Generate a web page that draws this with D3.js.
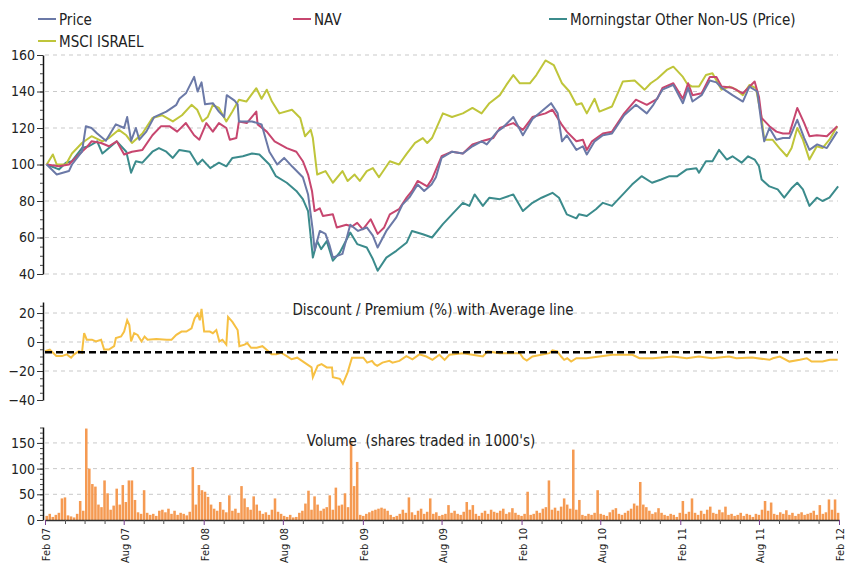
<!DOCTYPE html>
<html>
<head>
<meta charset="utf-8">
<script src="https://cdn.jsdelivr.net/npm/d3@7"></script>
<style>
  body { margin: 0; background: #fff; }
  text { font-family: "Liberation Sans Narrow", "DejaVu Sans Condensed", "Arial Narrow", sans-serif; fill: #222; }
</style>
</head>
<body>
<div id="chart"></div>
<script>
// Chart size
const width = 855;
const height = 565;

// Legend labels
const seriesNames = ["Price", "NAV", "Morningstar Other Non-US (Price)", "MSCI ISRAEL"];

// Price (rebased to 100)
const priceData = [
  ["2007-02-05",100],["2007-02-28",94.5],["2007-03-28",96.4],["2007-04-04",100],["2007-04-27",107],
  ["2007-05-06",121],["2007-05-19",120],["2007-06-01",117],["2007-06-21",113],["2007-07-14",122],
  ["2007-08-02",120],["2007-08-09",126],["2007-08-18",113],["2007-08-29",120],["2007-09-06",113.6],
  ["2007-09-22",118],["2007-10-10",126],["2007-11-07",129],["2007-11-30",132.7],["2007-12-07",136],
  ["2007-12-22",139],["2008-01-10",148],["2008-01-18",140],["2008-01-27",145],["2008-02-04",133],
  ["2008-02-22",133.6],["2008-03-07",129],["2008-03-19",126],["2008-03-25",138],["2008-04-12",135],
  ["2008-04-19",133],["2008-04-22",123.6],["2008-05-22",123.6],["2008-06-13",122],["2008-07-01",107],
  ["2008-07-19",100],["2008-08-04",103.6],["2008-08-22",99],["2008-09-16",93],["2008-09-28",83.6],
  ["2008-10-09",63.6],["2008-10-13",53],["2008-10-25",63.6],["2008-11-07",62],["2008-11-16",56],
  ["2008-11-24",49],["2008-12-16",51],["2009-01-03",67],["2009-01-21",63.6],["2009-02-10",65.5],
  ["2009-02-24",61],["2009-03-07",54.5],["2009-03-27",63.6],["2009-04-19",71],["2009-05-03",78],
  ["2009-05-19",82],["2009-06-07",89],["2009-06-22",85.5],["2009-07-09",89],["2009-07-19",93],
  ["2009-08-01",103.6],["2009-08-25",107],["2009-09-19",106],["2009-10-11",110],["2009-11-01",112.7],
  ["2009-11-13",111],["2009-12-07",118],["2009-12-19",120],["2010-01-13",126],["2010-02-04",116],
  ["2010-02-26",125],["2010-03-13",128],["2010-04-10",133.6],["2010-04-25",128],["2010-05-05",112.7],
  ["2010-05-16",116],["2010-06-07",108],["2010-06-22",110],["2010-07-01",105.5],["2010-07-19",112.7],
  ["2010-08-07",116],["2010-08-28",117],["2010-09-25",127],["2010-10-22",132.7],["2010-11-16",128],
  ["2010-12-01",132.7],["2010-12-22",141],["2011-01-16",143.6],["2011-02-07",133.6],["2011-02-19",142],
  ["2011-03-01",134.5],["2011-03-22",138],["2011-04-10",146],["2011-04-25",145],["2011-05-07",142],
  ["2011-06-01",138],["2011-06-25",134.5],["2011-07-10",142.7],["2011-07-28",140],["2011-08-07",122],
  ["2011-08-13",112.7],["2011-08-25",120],["2011-09-10",113.6],["2011-09-25",114.5],["2011-10-10",114.5],
  ["2011-10-28",124.5],["2011-11-13",114.5],["2011-11-25",108],["2011-12-13",111],["2012-01-04",109],
  ["2012-01-28",118]
];

// NAV (rebased to 100)
const navData = [
  ["2007-02-05",100],["2007-03-05",99],["2007-03-28",100],["2007-04-20",105.5],["2007-05-06",109],
  ["2007-05-19",112.7],["2007-06-10",111.8],["2007-06-28",110],["2007-07-16",112.7],["2007-08-02",105.5],
  ["2007-08-20",107],["2007-09-13",108],["2007-10-06",116],["2007-10-26",121],["2007-11-14",121],
  ["2007-12-02",118],["2007-12-22",122.7],["2008-01-10",116],["2008-01-22",113.6],["2008-02-07",122.7],
  ["2008-02-22",118],["2008-03-07",122.7],["2008-03-24",120],["2008-04-01",113.6],["2008-04-16",114.5],
  ["2008-04-22",123.6],["2008-05-10",122.7],["2008-06-01",129],["2008-06-04",122],["2008-06-25",118],
  ["2008-07-13",112.7],["2008-08-10",109],["2008-09-01",107],["2008-09-16",101.8],["2008-09-28",94.5],
  ["2008-10-07",85.5],["2008-10-13",74.5],["2008-10-25",76],["2008-11-01",71.8],["2008-11-24",72.7],
  ["2008-12-03",65.5],["2008-12-25",67],["2009-01-07",66],["2009-01-19",68],["2009-02-01",64.5],
  ["2009-02-19",70],["2009-03-07",62],["2009-03-22",65.5],["2009-04-04",72.7],["2009-04-25",75.5],
  ["2009-05-13",82],["2009-05-25",85.5],["2009-06-07",91],["2009-06-29",88],["2009-07-10",92],
  ["2009-08-01",104.5],["2009-08-25",107],["2009-09-19",106],["2009-10-11",111],["2009-11-01",112.7],
  ["2009-11-28",114.5],["2009-12-13",120],["2010-01-13",122.7],["2010-02-04",119],["2010-02-26",126],
  ["2010-03-28",128],["2010-04-13",130],["2010-05-04",122],["2010-05-16",118],["2010-06-07",112.7],
  ["2010-06-22",113.6],["2010-07-01",108],["2010-07-13",112.7],["2010-08-07",117],["2010-08-28",118],
  ["2010-09-25",128],["2010-10-22",135.5],["2010-11-16",132.7],["2010-12-10",136],["2010-12-22",142],
  ["2011-01-16",144.5],["2011-02-07",136],["2011-02-19",144.5],["2011-03-01",138],["2011-03-22",139],
  ["2011-04-10",148],["2011-04-25",148],["2011-05-07",142.7],["2011-06-01",142],["2011-06-25",139],
  ["2011-07-22",145.5],["2011-08-01",137],["2011-08-07",125.5],["2011-08-25",121],["2011-09-10",118],
  ["2011-09-25",117],["2011-10-10",117],["2011-10-28",131],["2011-11-13",122.7],["2011-11-25",115.5],
  ["2011-12-12",116],["2012-01-04",115.5],["2012-01-28",121]
];

// Morningstar Other Non-US (Price), rebased to 100
const msOtherData = [
  ["2007-02-05",100],["2007-03-05",97.3],["2007-03-21",101],["2007-04-04",101.8],["2007-04-27",109],
  ["2007-05-13",110],["2007-06-01",112.7],["2007-06-13",106],["2007-06-28",109],["2007-07-16",112.7],
  ["2007-08-07",107],["2007-08-18",95.5],["2007-08-29",101.8],["2007-09-13",101],["2007-10-06",107],
  ["2007-10-21",109],["2007-11-07",107],["2007-11-22",103.6],["2007-12-07",108],["2007-12-31",107],
  ["2008-01-18",100],["2008-01-29",102.7],["2008-02-16",98],["2008-03-07",101],["2008-03-24",99],
  ["2008-04-07",103.6],["2008-05-01",104.5],["2008-05-22",106],["2008-06-08",105.5],["2008-07-01",100],
  ["2008-07-16",93.6],["2008-08-10",90],["2008-09-01",85.5],["2008-09-16",81],["2008-09-28",74.5],
  ["2008-10-09",49],["2008-10-19",58],["2008-10-28",53.6],["2008-11-10",58],["2008-11-24",47.3],
  ["2008-12-10",51.8],["2009-01-03",62.7],["2009-01-19",56.4],["2009-02-10",54.5],["2009-02-24",48.2],
  ["2009-03-07",41.8],["2009-03-27",49],["2009-04-19",52.7],["2009-05-13",57.3],["2009-05-25",63.6],
  ["2009-06-19",61.8],["2009-07-10",60],["2009-08-04",67.3],["2009-08-25",72.7],["2009-09-19",79],
  ["2009-10-04",77.3],["2009-10-16",83.6],["2009-11-04",77.3],["2009-11-19",81.8],["2009-12-13",81],
  ["2010-01-13",83.6],["2010-02-04",74.5],["2010-02-26",79],["2010-03-19",81.8],["2010-04-13",84.5],
  ["2010-04-28",81.8],["2010-05-16",72.7],["2010-06-07",70.5],["2010-06-13",72.7],["2010-07-01",71.8],
  ["2010-07-22",75.5],["2010-08-07",79],["2010-08-28",77.3],["2010-09-22",83.6],["2010-10-13",89],
  ["2010-11-04",93.6],["2010-11-28",90],["2010-12-19",91.8],["2011-01-07",93.6],["2011-01-25",93.6],
  ["2011-02-16",97.3],["2011-03-10",98],["2011-03-16",95.5],["2011-04-01",101.8],["2011-04-16",101.8],
  ["2011-05-01",108],["2011-05-19",102.7],["2011-06-01",104.5],["2011-06-22",101],["2011-07-07",104.5],
  ["2011-07-22",102.7],["2011-08-01",99],["2011-08-07",91.8],["2011-08-25",88],["2011-09-13",86.4],
  ["2011-09-28",81.8],["2011-10-16",87.3],["2011-10-28",90],["2011-11-10",86.4],["2011-11-25",77.3],
  ["2011-12-12",81.8],["2011-12-25",80],["2012-01-10",81.8],["2012-01-30",88]
];

// MSCI ISRAEL, rebased to 100
const msciData = [
  ["2007-02-05",100],["2007-02-19",105.5],["2007-02-28",100],["2007-03-21",100],["2007-04-04",106],
  ["2007-04-27",111.8],["2007-05-19",115.5],["2007-06-13",112.7],["2007-06-28",114.5],["2007-07-21",119],
  ["2007-08-07",116],["2007-08-20",111.8],["2007-09-13",117],["2007-10-06",125.5],["2007-10-28",127],
  ["2007-11-22",123.6],["2007-12-13",127],["2008-01-04",132.7],["2008-01-17",130],["2008-01-29",123.6],
  ["2008-02-10",126],["2008-02-22",132.7],["2008-03-07",131],["2008-03-24",123.6],["2008-04-07",129],
  ["2008-04-22",135.5],["2008-05-09",134.5],["2008-06-01",141.8],["2008-06-13",136],["2008-06-25",141],
  ["2008-07-07",134.5],["2008-07-24",128],["2008-08-22",130],["2008-09-10",125.5],["2008-09-21",115.5],
  ["2008-10-04",119],["2008-10-09",114.5],["2008-10-19",94.5],["2008-11-07",96.4],["2008-11-24",90],
  ["2008-12-16",96.4],["2008-12-28",91],["2009-01-13",94.5],["2009-01-25",91],["2009-02-10",96.4],
  ["2009-02-24",98],["2009-03-10",93],["2009-04-04",101.8],["2009-04-25",100],["2009-05-13",106],
  ["2009-06-01",111.8],["2009-06-19",114.5],["2009-06-29",111.8],["2009-07-10",114.5],["2009-08-04",128],
  ["2009-08-25",126],["2009-09-19",128],["2009-10-11",131],["2009-11-01",128],["2009-11-19",133.6],
  ["2009-12-13",138],["2009-12-28",143.6],["2010-01-13",149],["2010-01-28",144.5],["2010-02-20",144.5],
  ["2010-03-07",149],["2010-03-28",157],["2010-04-16",154.5],["2010-05-05",144.5],["2010-05-22",140],
  ["2010-06-07",132.7],["2010-06-19",133.6],["2010-07-01",128],["2010-07-19",136],["2010-07-30",129],
  ["2010-08-28",131.8],["2010-09-22",145.5],["2010-10-19",146],["2010-11-11",141],["2010-11-25",144.5],
  ["2010-12-10",147],["2011-01-01",151.8],["2011-01-16",153.6],["2011-02-07",148],["2011-02-16",144.5],
  ["2011-02-28",142.7],["2011-03-16",142.7],["2011-04-01",149],["2011-04-16",150],["2011-05-07",141],
  ["2011-05-25",142.7],["2011-06-10",141],["2011-06-25",138],["2011-07-10",143.6],["2011-07-25",141.8],
  ["2011-08-07",125.5],["2011-08-13",113.6],["2011-09-01",113.6],["2011-09-17",109],["2011-10-04",104.5],
  ["2011-10-15",109],["2011-10-28",120],["2011-11-10",113.6],["2011-11-25",102.7],["2011-12-12",110],
  ["2011-12-25",109],["2012-01-10",113.6],["2012-01-28",121]
];

// Discount / Premium (%)
const discountData = [
  ["2007-02-01",-6.3],["2007-02-12",-5.2],["2007-02-27",-9.7],["2007-03-12",-9.7],["2007-03-23",-8.5],
  ["2007-04-02",-10.8],["2007-04-09",-8.5],["2007-04-20",-6.3],["2007-04-27",-7.4],["2007-05-02",6.1],
  ["2007-05-08",1.6],["2007-05-20",1.6],["2007-05-29",0.4],["2007-06-10",1.6],["2007-06-17",-5.2],
  ["2007-06-28",-5.2],["2007-07-10",-2.9],["2007-07-14",2.7],["2007-07-26",3.8],["2007-08-02",7.2],
  ["2007-08-09",15],["2007-08-14",11.7],["2007-08-18",0.4],["2007-08-25",6.1],["2007-09-02",4.9],
  ["2007-09-11",0.4],["2007-09-18",3.8],["2007-09-25",1.6],["2007-10-15",2],["2007-11-08",1.6],
  ["2007-11-19",1.6],["2007-11-30",4.9],["2007-12-12",7.2],["2007-12-23",7.2],["2008-01-04",9.4],
  ["2008-01-11",16.2],["2008-01-18",19.5],["2008-01-23",15],["2008-01-27",22.9],["2008-02-02",7.2],
  ["2008-02-15",7.2],["2008-02-22",6.1],["2008-03-01",8.3],["2008-03-08",0.4],["2008-03-15",1.6],
  ["2008-03-24",-1.8],["2008-03-28",17.3],["2008-04-07",13.9],["2008-04-19",8.3],["2008-04-23",-2.9],
  ["2008-05-05",-1.8],["2008-05-11",-0.7],["2008-05-20",-4],["2008-06-02",-4],["2008-06-15",-2.9],
  ["2008-06-24",-5.2],["2008-07-06",-8.5],["2008-07-17",-8.5],["2008-07-28",-7.4],["2008-08-10",-9.7],
  ["2008-08-21",-11.9],["2008-09-03",-10.8],["2008-09-14",-13],["2008-09-25",-15.3],["2008-10-06",-17.5],
  ["2008-10-09",-24.3],["2008-10-20",-16.4],["2008-10-29",-15.3],["2008-11-10",-17.5],["2008-11-22",-17.5],
  ["2008-11-24",-24.3],["2008-12-10",-25.4],["2008-12-17",-28.8],["2008-12-28",-20.9],["2009-01-07",-10.8],
  ["2009-01-21",-10.8],["2009-02-02",-10.8],["2009-02-11",-14.2],["2009-02-22",-13],["2009-02-28",-15.3],
  ["2009-03-06",-16.4],["2009-03-18",-14.2],["2009-04-03",-13],["2009-04-10",-14.2],["2009-04-26",-13],
  ["2009-05-12",-9.7],["2009-05-26",-11.9],["2009-06-11",-8.5],["2009-06-27",-10],["2009-07-11",-12.3],
  ["2009-07-27",-8.8],["2009-08-08",-12.3],["2009-08-19",-8.8],["2009-09-19",-7.7],["2009-10-11",-8.8],
  ["2009-11-04",-10],["2009-11-15",-6.5],["2009-12-13",-7.7],["2010-01-05",-7.7],["2010-01-28",-7.7],
  ["2010-02-05",-11.2],["2010-02-13",-12.8],["2010-02-26",-10],["2010-04-06",-7.7],["2010-04-13",-5.8],
  ["2010-04-24",-6.5],["2010-05-03",-10],["2010-05-10",-12.3],["2010-05-17",-11.2],["2010-05-26",-13.5],
  ["2010-06-07",-11.2],["2010-06-30",-11.2],["2010-07-30",-10],["2010-08-29",-8.8],["2010-10-14",-8.8],
  ["2010-10-30",-11.2],["2010-11-30",-11.2],["2011-01-15",-10],["2011-02-16",-11.2],["2011-03-16",-10],
  ["2011-04-15",-11.2],["2011-05-24",-10],["2011-06-10",-11.2],["2011-07-16",-10.7],["2011-08-25",-12.3],
  ["2011-09-02",-11.2],["2011-09-18",-10],["2011-10-10",-13.5],["2011-11-03",-12.3],["2011-11-19",-11.2],
  ["2011-11-30",-13.5],["2011-12-25",-13.5],["2012-01-11",-12.3],["2012-01-29",-12.3]
];
const discountAverage = -7;

// Weekly volume (shares traded in 1000's), starting the week of 2007-02-02
const volumeStart = "2007-02-02";
const volumes = [
  8,12,6,10,14,42,44,9,7,5,12,37,18,178,100,70,65,30,25,77,
  52,20,28,61,30,68,35,77,77,39,15,12,58,14,10,12,8,18,20,15,
  22,12,18,10,14,12,9,16,103,30,68,58,55,45,30,22,18,35,20,15,
  48,18,22,14,66,42,25,20,46,30,18,12,15,10,20,42,16,12,8,6,
  10,5,6,14,18,32,57,20,46,30,18,22,25,48,20,63,28,30,52,25,
  152,66,113,10,8,12,15,18,20,22,24,22,18,10,6,8,12,20,14,44,
  15,10,18,22,12,16,42,12,15,8,10,12,29,14,18,12,10,16,35,20,
  29,12,8,14,18,12,20,16,14,18,22,12,15,23,14,10,8,12,55,10,
  12,18,14,22,25,77,20,24,18,26,42,30,22,137,20,39,10,8,12,10,
  14,58,12,10,8,15,20,23,12,10,14,18,22,32,28,74,30,25,18,12,
  15,23,14,10,8,12,10,6,14,37,12,16,42,14,10,18,12,20,26,14,
  12,20,15,26,10,12,8,10,14,8,12,10,6,12,10,20,37,18,34,12,
  10,15,12,19,10,14,8,12,15,10,12,14,18,10,29,12,15,40,20,40,
  14
];

// Axis ticks
const mainTicks = [40, 60, 80, 100, 120, 140, 160];
const discTicks = [-40, -20, 0, 20];
const discGrid = [-20, 0, 20];
const volTicks = [0, 50, 100, 150];
const volGrid = [50, 100, 150];

const colors = ["#6b79a7", "#c7466f", "#3b8b8c", "#bfc53a"];

const parse = d3.timeParse("%Y-%m-%d");

const svg = d3.select("#chart")
    .append("svg")
    .attr("width", width)
    .attr("height", height)
    .style("background-color", "#fff");

const xStart = parse("2007-02-01");
const xEnd = parse("2012-02-01");
const x = d3.scaleTime().domain([xStart, xEnd]).range([45, 839]);

const yMain = d3.scaleLinear().domain([40, 160]).range([274, 55]);
const yDisc = d3.scaleLinear().domain([-40, 27.6]).range([400, 302]);
const yVol = d3.scaleLinear().domain([0, 181]).range([520, 427]);

// dashed horizontal grid lines
function grid(scale, values) {
  svg.append("g").selectAll("line")
    .data(values)
    .join("line")
    .attr("x1", 45).attr("x2", 838)
    .attr("y1", d => scale(d)).attr("y2", d => scale(d))
    .attr("stroke", "#c9c9c9")
    .attr("stroke-width", 1)
    .attr("stroke-dasharray", "4,4");
}

// left axis with minor ticks
function leftAxis(scale, major, minorStep) {
  const [lo, hi] = scale.domain();
  const minor = d3.range(Math.ceil(lo / minorStep) * minorStep, hi + 0.001, minorStep);
  svg.append("g")
    .attr("transform", "translate(43,0)")
    .call(d3.axisLeft(scale).tickValues(minor).tickSize(3).tickSizeOuter(0).tickFormat(""))
    .call(g => g.selectAll("line").attr("stroke", "#444"))
    .call(g => g.select(".domain").attr("stroke", "#111").attr("stroke-width", 1.5));
  const g = svg.append("g")
    .attr("transform", "translate(43,0)")
    .call(d3.axisLeft(scale).tickValues(major).tickSize(6).tickSizeOuter(0).tickPadding(2));
  g.attr("font-family", null).attr("font-size", null);
  g.select(".domain").remove();
  g.selectAll("line").attr("stroke", "#333");
  g.selectAll("text").style("font-size", "14px").attr("fill", "#222");
}

grid(yMain, mainTicks);
grid(yDisc, discGrid);
grid(yVol, volGrid);

// price lines
const line = d3.line()
    .x(d => x(parse(d[0])))
    .y(d => yMain(d[1]));

const allSeries = [priceData, navData, msOtherData, msciData];
const drawOrder = [2, 3, 1, 0];
drawOrder.forEach(i => {
  svg.append("path")
    .datum(allSeries[i])
    .attr("d", line)
    .attr("fill", "none")
    .attr("stroke", colors[i])
    .attr("stroke-width", 2)
    .attr("stroke-linejoin", "round");
});

// discount / premium
svg.append("path")
  .datum(discountData)
  .attr("d", d3.line().x(d => x(parse(d[0]))).y(d => yDisc(d[1])))
  .attr("fill", "none")
  .attr("stroke", "#f6c043")
  .attr("stroke-width", 2);

svg.append("line")
  .attr("x1", 45).attr("x2", 838)
  .attr("y1", yDisc(discountAverage)).attr("y2", yDisc(discountAverage))
  .attr("stroke", "#000")
  .attr("stroke-width", 2.5)
  .attr("stroke-dasharray", "7,4");

// volume bars
const vStart = parse(volumeStart);
const volDates = volumes.map((v, i) => d3.timeWeek.offset(vStart, i));
svg.append("g").selectAll("rect")
  .data(volumes)
  .join("rect")
  .attr("x", (d, i) => x(volDates[i]))
  .attr("width", (d, i) => Math.max(0.5, x(d3.timeWeek.offset(volDates[i], 1)) - x(volDates[i]) - 0.5))
  .attr("y", d => yVol(d))
  .attr("height", d => yVol(0) - yVol(d))
  .attr("fill", "#f59a52");

// panel titles
svg.append("text")
  .attr("x", 433).attr("y", 315)
  .attr("text-anchor", "middle")
  .style("font-size", "15px")
  .text("Discount / Premium (%) with Average line");

svg.append("text")
  .attr("x", 421).attr("y", 446)
  .attr("text-anchor", "middle")
  .style("font-size", "15px")
  .style("white-space", "pre")
  .attr("xml:space", "preserve")
  .text("Volume  (shares traded in 1000's)");

// y axes
leftAxis(yMain, mainTicks, 5);
leftAxis(yDisc, discTicks, 5);
leftAxis(yVol, volTicks, 10);

// x axis at the bottom
const majorDates = d3.range(0, 11).map(i => d3.timeMonth.offset(xStart, 6 * i));
const minorDates = [];
d3.range(0, 10).forEach(i => {
  [1, 2, 3].forEach(k => minorDates.push(d3.timeDay.offset(majorDates[i], Math.round(k * 45.6))));
});

svg.append("g")
  .attr("transform", "translate(0,520)")
  .call(d3.axisBottom(x).tickValues(minorDates).tickSize(4).tickSizeOuter(0).tickFormat(""))
  .call(g => g.select(".domain").attr("stroke", "#333").attr("stroke-width", 1.5))
  .call(g => g.selectAll("line").attr("stroke", "#555"));

const xg = svg.append("g")
  .attr("transform", "translate(0,520)")
  .call(d3.axisBottom(x).tickValues(majorDates).tickSize(5).tickSizeOuter(0).tickFormat(d3.timeFormat("%b %y")));
xg.attr("font-family", null).attr("font-size", null);
xg.select(".domain").remove();
xg.selectAll("line").attr("stroke", "#7a3f8f");
xg.selectAll("text")
  .style("font-size", "11px")
  .attr("fill", "#222")
  .attr("text-anchor", "end")
  .attr("transform", "rotate(-90)")
  .attr("x", -8)
  .attr("y", 1)
  .attr("dy", "0.35em");

// legend
const legendPos = [[38, 19], [293, 19], [549, 19], [38, 41]];
seriesNames.forEach((name, i) => {
  const [lx, ly] = legendPos[i];
  svg.append("line")
    .attr("x1", lx).attr("x2", lx + 18)
    .attr("y1", ly).attr("y2", ly)
    .attr("stroke", colors[i])
    .attr("stroke-width", 2);
  svg.append("text")
    .attr("x", lx + 21).attr("y", ly + 5.5)
    .style("font-size", "15px")
    .text(name);
});
</script>
</body>
</html>
